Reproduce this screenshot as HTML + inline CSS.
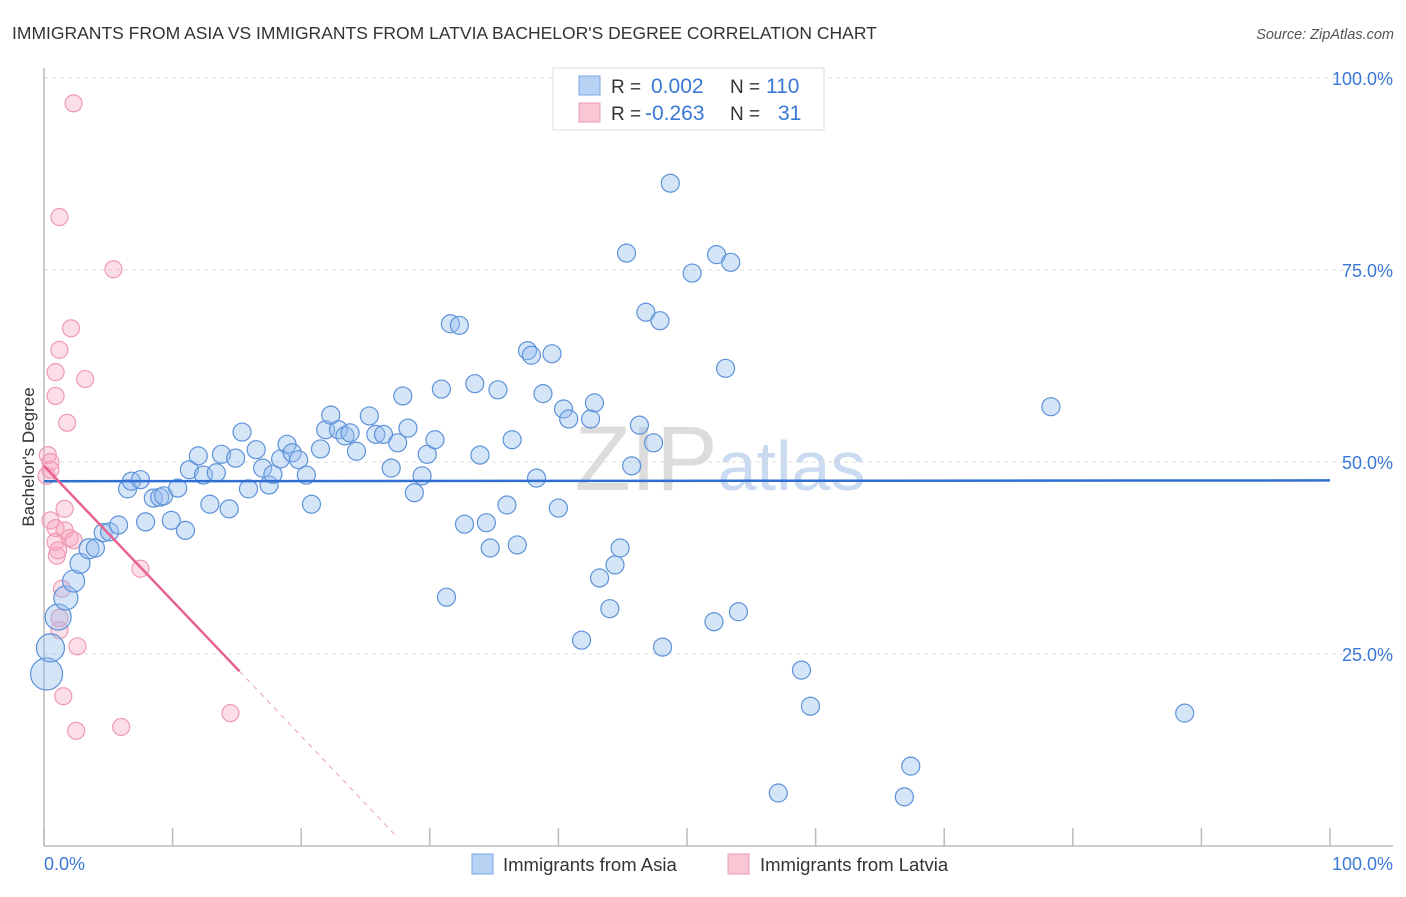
<!DOCTYPE html>
<html><head><meta charset="utf-8"><style>
body{margin:0;background:#fff;font-family:"Liberation Sans",sans-serif;}
svg text{font-family:"Liberation Sans",sans-serif;}
</style></head><body>
<svg id="chart" width="1406" height="892" viewBox="0 0 1406 892" xmlns="http://www.w3.org/2000/svg">
<text x="12" y="39" font-size="17.5" fill="#333">IMMIGRANTS FROM ASIA VS IMMIGRANTS FROM LATVIA BACHELOR'S DEGREE CORRELATION CHART</text>
<text x="1394" y="39" font-size="14.5" fill="#555" text-anchor="end" font-style="italic">Source: ZipAtlas.com</text>
<text x="720" y="490" font-size="92" fill="#e3e9f2" text-anchor="middle" font-family="Liberation Serif"><tspan fill="#dcdcdc">ZIP</tspan><tspan font-family="Liberation Sans" font-size="70" fill="#c9daf1">atlas</tspan></text>
<g id="grid"></g>
<g id="axes"></g>
<g id="pts"></g>
<g id="lines"></g>
<text transform="translate(34,457) rotate(-90)" font-size="17" fill="#333" text-anchor="middle">Bachelor's Degree</text>
<g>
<rect x="553" y="68" width="271" height="62" fill="#fff" stroke="#ddd"/>
<rect x="579" y="76" width="21" height="19" fill="#b8d2f3" stroke="#7aa6e0"/>
<rect x="579" y="103" width="21" height="19" fill="#f9c6d4" stroke="#ec9bb4"/>
<text x="611" y="93" font-size="19" fill="#333">R = </text><text x="651" y="93" font-size="21" fill="#3a78d6">0.002</text>
<text x="730" y="93" font-size="19" fill="#333">N =</text><text x="766" y="93" font-size="21" fill="#3a78d6">110</text>
<text x="611" y="120" font-size="19" fill="#333">R = </text><text x="645" y="120" font-size="21" fill="#3a78d6">-0.263</text>
<text x="730" y="120" font-size="19" fill="#333">N =</text><text x="778" y="120" font-size="21" fill="#3a78d6">31</text>
</g>
<g>
<rect x="472" y="854" width="21" height="20" fill="#b8d2f3" stroke="#7aa6e0"/>
<text x="503" y="871" font-size="18.5" fill="#333">Immigrants from Asia</text>
<rect x="728" y="854" width="21" height="20" fill="#f9c6d4" stroke="#ec9bb4"/>
<text x="760" y="871" font-size="18.5" fill="#333">Immigrants from Latvia</text>
</g>
</svg>
<script>
const yTicks=[25,50,75,100];
const yTickLabels=["25.0%","50.0%","75.0%","100.0%"];
const xTicks=[0,10,20,30,40,50,60,70,80,90,100];
const asiaX=[0.2,0.5,1.1,1.7,2.3,2.8,3.5,4.0,4.6,5.1,5.8,6.5,6.8,7.5,7.9,8.5,9.0,9.3,9.9,10.4,11.0,11.3,12.0,12.4,12.9,13.4,13.8,14.4,14.9,15.4,15.9,16.5,17.0,17.5,17.8,18.4,18.9,19.3,19.8,20.4,20.8,21.5,21.9,22.3,22.9,23.4,23.8,24.3,25.3,25.8,26.4,27.0,27.5,27.9,28.3,28.8,29.4,29.8,30.4,31.3,30.9,31.6,32.3,32.7,33.5,33.9,34.4,34.7,35.3,36.0,36.4,36.8,37.6,37.9,38.3,38.8,39.5,40.0,40.4,40.8,41.8,42.5,42.8,43.2,44.0,44.4,44.8,45.3,45.7,46.3,46.8,47.4,47.9,48.1,48.7,50.4,52.1,52.3,53.0,53.4,54.0,57.1,58.9,59.6,66.9,67.4,78.3,88.7];
const asiaY=[22.4,25.8,29.8,32.3,34.5,36.8,38.7,38.8,40.8,40.9,41.8,46.5,47.5,47.7,42.2,45.3,45.4,45.6,42.4,46.6,41.1,49.0,50.8,48.3,44.5,48.6,51.0,43.9,50.5,53.9,46.5,51.6,49.2,47.0,48.4,50.4,52.3,51.2,50.3,48.3,44.5,51.7,54.2,56.1,54.2,53.4,53.8,51.4,56.0,53.6,53.6,49.2,52.5,58.6,54.4,46.0,48.2,51.0,52.9,32.4,59.5,68.0,67.8,41.9,60.2,50.9,42.1,38.8,59.4,44.4,52.9,39.2,64.5,63.9,47.9,58.9,64.1,44.0,56.9,55.6,26.8,55.6,57.7,34.9,30.9,36.6,38.8,77.2,49.5,54.8,69.5,52.5,68.4,25.9,86.3,74.6,29.2,77.0,62.2,76.0,30.5,6.9,22.9,18.2,6.4,10.4,57.2,17.3];
const asiaSize=[16,14,13,12,11,10,10,9,9,9,9];
const latviaX=[2.3,1.2,5.4,2.1,1.2,3.2,0.9,0.9,1.8,0.3,0.5,0.2,0.5,0.9,0.9,1.0,2.0,1.6,1.6,2.3,1.4,1.2,1.2,2.6,7.5,1.5,2.5,6.0,14.5,0.5,1.1];
const latviaY=[96.7,81.9,75.1,67.4,64.6,60.8,61.7,58.6,55.1,50.9,50.0,48.2,42.4,41.4,39.6,37.8,40.1,41.1,43.9,39.8,33.5,29.7,28.1,26.0,36.1,19.5,15.0,15.5,17.3,49.0,38.5];
const asiaTrend=[47.5,47.6];
const latviaTrend=[49.5,-1.76];
const latviaSolidEnd=15.2, latviaDashEnd=27.3;

const X0=44,X1=1330,Y0=846,Y100=78;
const sx=v=>X0+(X1-X0)*v/100;
const sy=v=>Y0-(Y0-Y100)*v/100;
const NS="http://www.w3.org/2000/svg";
function mk(tag,attrs,parent){const e=document.createElementNS(NS,tag);for(const k in attrs)e.setAttribute(k,attrs[k]);parent.appendChild(e);return e;}
const grid=document.getElementById('grid'),axes=document.getElementById('axes'),pts=document.getElementById('pts'),lines=document.getElementById('lines');
yTicks.forEach((t,i)=>{
  const l=mk('line',{x1:X0,x2:1393,y1:sy(t),y2:sy(t),stroke:'#dcdcdc','stroke-dasharray':'4,4'},grid);
  
  
  const tx=mk('text',{x:1393,y:sy(t)+7,'font-size':18,fill:'#3a78d6','text-anchor':'end'},grid);
  tx.textContent=yTickLabels[i];
  
  
});
const ax=mk('line',{x1:X0,x2:X0,y1:68,y2:Y0,stroke:'#bbb','stroke-width':1.5},axes);


const bx=mk('line',{x1:X0,x2:1393,y1:Y0,y2:Y0,stroke:'#bbb','stroke-width':1.5},axes);


xTicks.forEach(t=>{
  const l=mk('line',{x1:sx(t),x2:sx(t),y1:828,y2:Y0,stroke:'#bbb','stroke-width':1.5},axes);
  
  
});
const xl0=mk('text',{x:44,y:870,'font-size':18,fill:'#3a78d6'},axes);xl0.textContent='0.0%';


const xl1=mk('text',{x:1393,y:870,'font-size':18,fill:'#3a78d6','text-anchor':'end'},axes);xl1.textContent='100.0%';



latviaX.forEach((x,i)=>{
  const c=mk('circle',{cx:sx(x),cy:sy(latviaY[i]),r:8.5,fill:'rgba(245,160,185,0.35)',stroke:'#ee9ab3','stroke-width':1.2},pts);
  
  
});
asiaX.forEach((x,i)=>{
  const r=i<asiaSize.length?asiaSize[i]:9;
  const c=mk('circle',{cx:sx(x),cy:sy(asiaY[i]),r:r,fill:'rgba(150,190,238,0.4)',stroke:'#5d92d9','stroke-width':1.2},pts);
  
  
});
const bl=mk('line',{x1:sx(0),x2:sx(100),y1:sy(asiaTrend[0]),y2:sy(asiaTrend[1]),stroke:'#2f6fd1','stroke-width':2.5},lines);


const ly=x=>latviaTrend[0]+latviaTrend[1]*x;
const pl=mk('line',{x1:sx(0),x2:sx(latviaSolidEnd),y1:sy(ly(0)),y2:sy(ly(latviaSolidEnd)),stroke:'#e8628f','stroke-width':2.5},lines);


const pd=mk('line',{x1:sx(latviaSolidEnd),x2:sx(latviaDashEnd),y1:sy(ly(latviaSolidEnd)),y2:sy(ly(latviaDashEnd)),stroke:'#eea0b8','stroke-width':1,'stroke-dasharray':'5,5'},lines);


</script>
</body></html>
